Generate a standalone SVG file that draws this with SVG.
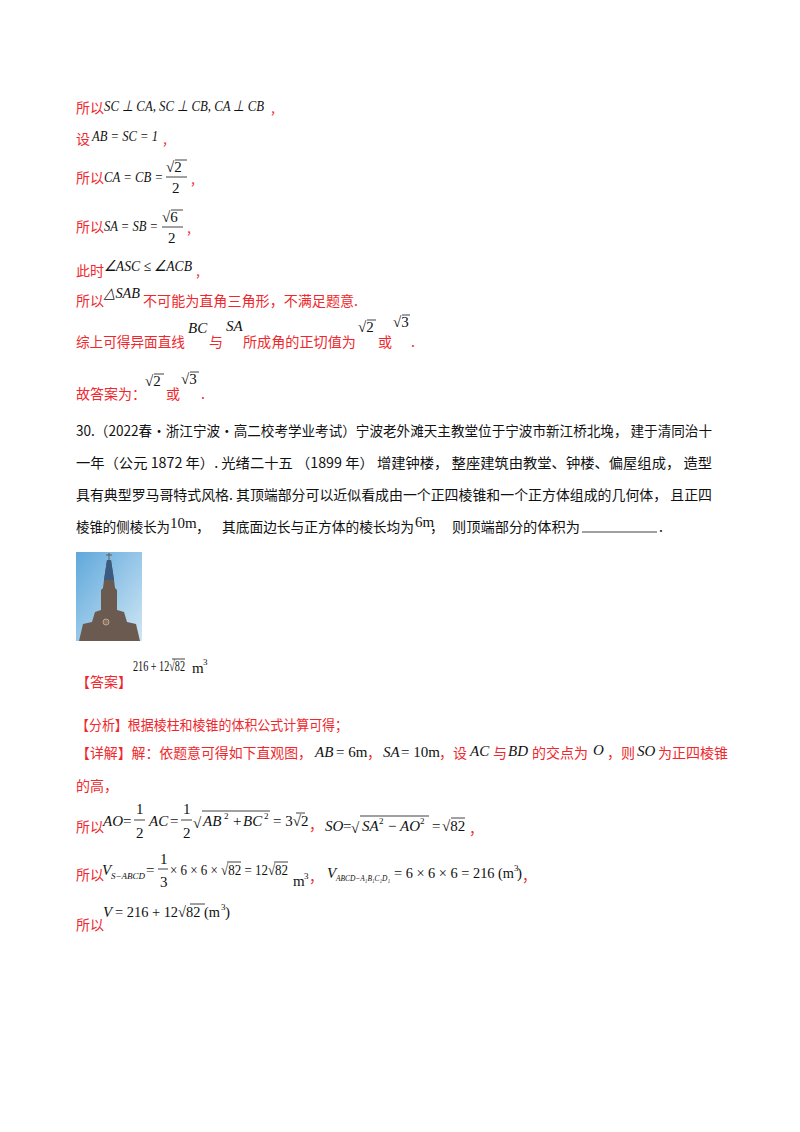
<svg xmlns="http://www.w3.org/2000/svg" width="800" height="1132" viewBox="0 0 800 1132">
<style>
.r{font-family:"Noto Sans CJK SC","Liberation Serif",sans-serif;font-size:14px;fill:#f0282d}
.k{font-family:"Noto Sans CJK SC","Liberation Serif",sans-serif;font-size:14px;fill:#111}
.m{font-family:"Liberation Serif",serif;font-size:15px;fill:#111;font-style:italic}
.n{font-family:"Liberation Serif",serif;font-size:15px;fill:#111}
.s{font-family:"Liberation Serif",serif;font-size:9px;fill:#111}
.ol{stroke:#111;stroke-width:0.8;fill:none}
</style>
<rect width="800" height="1132" fill="#fff"/>
<g id="sol29">
<text x="76" y="113" class="r">所以</text><text x="104" y="111" class="m" textLength="160" lengthAdjust="spacingAndGlyphs">SC ⊥ CA, SC ⊥ CB, CA ⊥ CB</text><text x="271" y="113" class="r">,</text>
<text x="76" y="144" class="r">设</text><text x="92" y="141" class="m" textLength="66" lengthAdjust="spacingAndGlyphs">AB = SC = 1</text><text x="163" y="144" class="r">,</text>
<text x="76" y="183" class="r">所以</text><text x="104" y="182" class="m" textLength="59" lengthAdjust="spacingAndGlyphs">CA = CB =</text>
<text x="166" y="172" class="n">√2</text><line x1="175" y1="160" x2="187" y2="160" class="ol"/><line x1="166" y1="177" x2="187" y2="177" class="ol"/><text x="172" y="193" class="n">2</text><text x="191" y="184" class="r">,</text>
<text x="76" y="232" class="r">所以</text><text x="104" y="231" class="m" textLength="54" lengthAdjust="spacingAndGlyphs">SA = SB =</text>
<text x="162" y="222" class="n">√6</text><line x1="171" y1="210" x2="183" y2="210" class="ol"/><line x1="162" y1="227" x2="183" y2="227" class="ol"/><text x="168" y="243" class="n">2</text><text x="187" y="233" class="r">,</text>
<text x="76" y="276" class="r">此时</text><text x="104" y="271" class="m" textLength="88" lengthAdjust="spacingAndGlyphs">∠ASC ≤ ∠ACB</text><text x="196" y="276" class="r">,</text>
<text x="76" y="306" class="r">所以</text><text x="104" y="298" class="m" textLength="36" lengthAdjust="spacingAndGlyphs">△SAB</text><text x="143" y="306" class="r" textLength="215" lengthAdjust="spacingAndGlyphs">不可能为直角三角形，不满足题意.</text>
<text x="76" y="347" class="r" textLength="109" lengthAdjust="spacingAndGlyphs">综上可得异面直线</text><text x="188" y="333" class="m">BC</text><text x="209" y="347" class="r">与</text><text x="226" y="331" class="m">SA</text><text x="243" y="347" class="r" textLength="113" lengthAdjust="spacingAndGlyphs">所成角的正切值为</text>
<text x="358" y="332" class="n">√2</text><line x1="367" y1="320" x2="376" y2="320" class="ol"/><text x="378" y="347" class="r">或</text><text x="393" y="327" class="n">√3</text><line x1="402" y1="315" x2="410" y2="315" class="ol"/><text x="411" y="347" class="r">.</text>
<text x="76" y="399" class="r">故答案为：</text><text x="145" y="386" class="n">√2</text><line x1="154" y1="374" x2="164" y2="374" class="ol"/><text x="166" y="399" class="r">或</text><text x="181" y="384" class="n">√3</text><line x1="190" y1="372" x2="199" y2="372" class="ol"/><text x="201" y="399" class="r">.</text>
</g>
<g id="q30">
<text x="76" y="436" class="k" textLength="636" lengthAdjust="spacingAndGlyphs">30.（2022春·浙江宁波·高二校考学业考试）宁波老外滩天主教堂位于宁波市新江桥北堍， 建于清同治十</text>
<text x="76" y="468" class="k" textLength="636" lengthAdjust="spacingAndGlyphs">一年（公元 1872 年）. 光绪二十五 （1899 年） 增建钟楼， 整座建筑由教堂、钟楼、偏屋组成， 造型</text>
<text x="76" y="500" class="k" textLength="636" lengthAdjust="spacingAndGlyphs">具有典型罗马哥特式风格. 其顶端部分可以近似看成由一个正四棱锥和一个正方体组成的几何体， 且正四</text>
<text x="76" y="532" class="k" textLength="94" lengthAdjust="spacingAndGlyphs">棱锥的侧棱长为</text><text x="170" y="528" class="n" font-size="16">10m</text><text x="196" y="532" class="k">，</text><text x="222" y="532" class="k" textLength="192" lengthAdjust="spacingAndGlyphs">其底面边长与正方体的棱长均为</text><text x="415" y="527" class="n" font-size="11">6m</text><text x="430" y="532" class="k">，</text><text x="452" y="532" class="k" textLength="128" lengthAdjust="spacingAndGlyphs">则顶端部分的体积为</text>
<line x1="582" y1="532" x2="657" y2="532" stroke="#111" stroke-width="0.8"/><text x="659" y="532" class="k">.</text>
</g>
<g id="photo">
<defs><linearGradient id="sky" x1="0" y1="0" x2="1" y2="1"><stop offset="0" stop-color="#5fa8dc"/><stop offset="1" stop-color="#cfe6f4"/></linearGradient></defs>
<rect x="76" y="552" width="66" height="89" fill="url(#sky)"/>
<polygon points="107,560 104,580 103,588 101,590 101,610 95,612 92,622 83,624 79,641 140,641 136,624 127,622 124,612 117,610 117,590 115,588 114,580 111,560" fill="#6a5a50"/>
<polygon points="107,560 104,580 114,580 111,560" fill="#3b5a80"/>
<line x1="109" y1="553" x2="109" y2="561" stroke="#6a5a50" stroke-width="1"/>
<line x1="106" y1="555" x2="112" y2="555" stroke="#6a5a50" stroke-width="1"/>
<circle cx="106" cy="622" r="3" fill="#8c6f5e" stroke="#c8b8a8" stroke-width="0.8"/>
</g>
<g id="answer">
<text x="76" y="687" class="r">【答案】</text>
<text x="133" y="671" class="n" font-size="13" textLength="52" lengthAdjust="spacingAndGlyphs">216 + 12√82</text><line x1="172" y1="659" x2="185" y2="659" class="ol"/><text x="192" y="673" class="n" font-size="13">m</text><text x="203" y="665" class="s" font-size="7">3</text>
<text x="76" y="730" class="r" textLength="272" lengthAdjust="spacingAndGlyphs">【分析】根据棱柱和棱锥的体积公式计算可得；</text>
<text x="76" y="758" class="r" textLength="236" lengthAdjust="spacingAndGlyphs">【详解】解：依题意可得如下直观图，</text><text x="315" y="757" class="m">AB</text><text x="336" y="757" class="n">= 6m</text><text x="367" y="758" class="r">，</text><text x="383" y="757" class="m">SA</text><text x="401" y="757" class="n">= 10m</text><text x="439" y="758" class="r">，设</text><text x="470" y="756" class="m">AC</text><text x="493" y="758" class="r">与</text><text x="508" y="756" class="m">BD</text><text x="532" y="758" class="r">的交点为</text><text x="593" y="755" class="m">O</text><text x="607" y="758" class="r">，则</text><text x="637" y="756" class="m">SO</text><text x="658" y="758" class="r">为正四棱锥</text>
<text x="76" y="791" class="r">的高，</text>
<text x="76" y="832" class="r">所以</text><text x="103" y="826" class="m">AO</text><text x="123" y="826" class="n">=</text><text x="136" y="814" class="n">1</text><line x1="134" y1="820" x2="145" y2="820" class="ol"/><text x="136" y="838" class="n">2</text><text x="149" y="826" class="m">AC</text><text x="170" y="826" class="n">=</text><text x="183" y="814" class="n">1</text><line x1="181" y1="820" x2="192" y2="820" class="ol"/><text x="183" y="838" class="n">2</text>
<text x="193" y="828" class="n" font-size="17">√</text><line x1="202" y1="811" x2="270" y2="811" class="ol"/><text x="203" y="826" class="m">AB</text><text x="224" y="819" class="s">2</text><text x="233" y="826" class="n">+</text><text x="243" y="826" class="m">BC</text><text x="264" y="819" class="s">2</text><text x="273" y="826" class="n">= 3√2</text><line x1="296" y1="813" x2="305" y2="813" class="ol"/><text x="309" y="830" class="r">，</text>
<text x="325" y="831" class="m">SO</text><text x="343" y="831" class="n">=</text><text x="351" y="833" class="n" font-size="17">√</text><line x1="360" y1="816" x2="429" y2="816" class="ol"/><text x="362" y="831" class="m">SA</text><text x="379" y="824" class="s">2</text><text x="388" y="831" class="n">−</text><text x="400" y="831" class="m">AO</text><text x="420" y="824" class="s">2</text><text x="432" y="831" class="n">=</text><text x="442" y="831" class="n">√82</text><line x1="451" y1="818" x2="465" y2="818" class="ol"/><text x="469" y="834" class="r">，</text>
<text x="76" y="880" class="r">所以</text><text x="102" y="875" class="m">V</text><text x="111" y="879" class="s" font-style="italic" font-size="7.5">S−ABCD</text><text x="146" y="875" class="n">=</text><text x="160" y="864" class="n">1</text><line x1="158" y1="869" x2="168" y2="869" class="ol"/><text x="160" y="887" class="n">3</text><text x="170" y="875" class="n" textLength="118" lengthAdjust="spacingAndGlyphs">× 6 × 6 × √82 = 12√82</text><line x1="227" y1="862" x2="241" y2="862" class="ol"/><line x1="274" y1="862" x2="288" y2="862" class="ol"/><text x="293" y="886" class="n" font-size="12">m</text><text x="304" y="879" class="s" font-size="6">3</text><text x="309" y="882" class="r">，</text>
<text x="327" y="878" class="m">V</text><text x="336" y="881" class="s" font-style="italic" font-size="6.5" textLength="54" lengthAdjust="spacingAndGlyphs">ABCD−A₁B₁C₁D₁</text><text x="394" y="878" class="n" textLength="120" lengthAdjust="spacingAndGlyphs">= 6 × 6 × 6 = 216 (m</text><text x="514" y="871" class="s" font-size="6">3</text><text x="517" y="878" class="n">)</text><text x="522" y="881" class="r">，</text>
<text x="76" y="930" class="r">所以</text><text x="103" y="917" class="m">V</text><text x="115" y="917" class="n" textLength="105" lengthAdjust="spacingAndGlyphs">= 216 + 12√82 (m</text><line x1="190" y1="904" x2="205" y2="904" class="ol"/><text x="221" y="910" class="s" font-size="6">3</text><text x="225" y="917" class="n">)</text>
</g>
</svg>
